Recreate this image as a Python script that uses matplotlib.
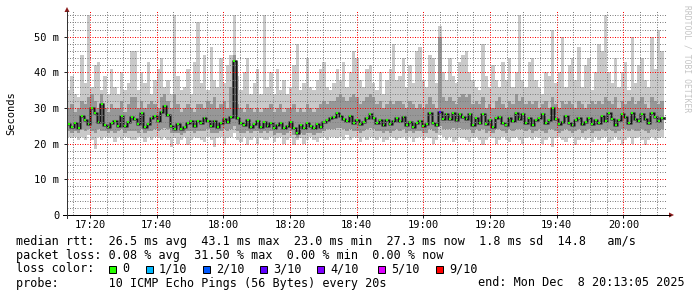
import numpy as np
import matplotlib
matplotlib.use('Agg')
import matplotlib.pyplot as plt
from matplotlib.patches import Rectangle, Polygon
from matplotlib.lines import Line2D

W, H = 697, 297

# one sample per minute from 17:13:05, x in minutes after 17:00, y in ms
t_start = 13 + 5 / 60

median = [25.5, 24.6, 25.8, 24.3, 27.8, 26.6, 25.4, 30.0, 28.5, 26.0, 31.0, 25.2, 24.6, 25.8, 26.4, 24.9, 27.8, 25.0, 26.2, 27.4,
          27.0, 25.6, 28.5, 24.8, 25.6, 27.2, 27.8, 26.3, 29.0, 30.5, 28.0, 25.0, 24.2, 25.4, 24.0, 24.8, 25.7, 26.4, 24.9, 26.5,
          25.8, 27.2, 26.3, 25.1, 26.4, 24.8, 25.7, 27.0, 26.2, 27.5, 43.1, 27.2, 25.8, 25.2, 26.7, 24.8, 25.6, 26.3, 24.7, 26.1,
          24.9, 25.7, 24.3, 25.2, 25.8, 24.4, 25.1, 26.2, 24.4, 23.0, 25.2, 24.3, 25.7, 24.9, 24.3, 25.6, 24.8, 26.2, 26.6, 27.3,
          27.6, 28.6, 27.8, 26.8, 26.3, 27.7, 25.8, 26.6, 25.4, 26.2, 27.1, 28.2, 27.3, 25.8, 26.7, 25.3, 26.6, 25.4, 26.3, 27.1,
          26.4, 27.6, 25.3, 26.2, 24.8, 25.7, 26.3, 24.9, 25.6, 28.5, 25.8, 25.3, 29.0, 26.8, 28.2, 26.8, 28.6, 26.7, 28.2, 27.4,
          26.8, 28.2, 25.3, 27.2, 25.8, 28.3, 25.4, 26.7, 24.8, 27.2, 27.6, 25.8, 25.3, 27.3, 26.4, 28.7, 26.8, 28.2, 25.8, 27.2,
          25.3, 26.7, 27.2, 28.3, 25.8, 26.6, 30.0, 26.8, 25.4, 26.2, 27.7, 25.8, 25.3, 26.7, 27.2, 25.4, 26.2, 27.3, 25.4, 26.6,
          25.8, 27.7, 26.3, 28.6, 26.8, 25.3, 26.7, 28.3, 27.4, 25.8, 28.7, 26.8, 26.4, 28.3, 26.8, 25.8, 28.6, 27.4, 26.3, 27.3]

ping_max = [35, 39, 34, 33, 45, 37, 56, 36, 42, 43, 35, 39, 34, 41, 36, 34, 40, 35, 37, 46,
            46, 35, 40, 37, 43, 34, 38, 41, 44, 36, 38, 34, 56, 39, 35, 36, 41, 34, 43, 54,
            37, 45, 35, 47, 38, 36, 44, 37, 42, 45, 56, 39, 35, 40, 44, 34, 37, 41, 34, 56,
            36, 40, 34, 41, 35, 38, 34, 36, 42, 48, 35, 37, 44, 36, 35, 38, 41, 43, 36, 35,
            37, 41, 38, 43, 36, 40, 46, 44, 38, 36, 41, 42, 37, 35, 40, 34, 38, 41, 48, 38,
            39, 44, 36, 42, 37, 46, 47, 38, 36, 45, 44, 37, 53, 40, 38, 44, 39, 37, 43, 45,
            46, 40, 38, 36, 35, 48, 39, 36, 42, 38, 36, 43, 38, 44, 36, 40, 56, 38, 36, 43,
            44, 38, 36, 34, 40, 39, 52, 37, 40, 50, 36, 42, 44, 38, 47, 36, 42, 44, 35, 40,
            48, 46, 56, 40, 37, 44, 36, 40, 43, 35, 50, 37, 42, 44, 38, 36, 50, 41, 52, 46]

ping_min = [22, 21.5, 22, 21, 22, 21, 22.5, 21, 18.5, 22, 21, 22, 21.5, 22, 20.5, 22, 21, 22, 21.5, 21,
            21, 22, 21.5, 20.5, 22, 21, 22, 21.5, 21, 22, 21, 19, 21.5, 20, 21, 22, 19.5, 21, 22, 21.5,
            21, 20.5, 22, 21, 19, 21.5, 22, 20, 21.5, 22, 23, 21, 20.5, 22, 19.5, 21, 22, 20, 21.5, 21,
            21, 22, 20.5, 21.5, 22, 20, 21, 21.5, 19.5, 21, 21.5, 20, 21, 22, 21, 20.5, 21.5, 22, 21, 22,
            22, 21.5, 22, 21, 22.5, 21, 22, 21.5, 20.5, 22, 21, 22, 21.5, 21, 22, 20.5, 21, 22, 21.5, 21,
            21.5, 22, 21, 22, 20.5, 21.5, 22, 21, 22, 21.5, 20, 21, 22.5, 22, 21, 22, 20.5, 21, 22, 21.5,
            21, 20.5, 21.5, 22, 21, 19.5, 21, 22, 21.5, 20, 21, 22, 21, 20.5, 21.5, 22, 21, 20, 21.5, 22,
            21, 22, 21.5, 20, 21, 22, 19, 21.5, 22, 21, 20.5, 21.5, 22, 19.5, 21, 22, 21, 21.5, 20.5, 22,
            21, 21.5, 22, 20.5, 21, 22, 21, 19.5, 21, 22, 20, 21.5, 22, 21, 19.5, 21, 22, 21, 21.5, 22]

# inner smoke (most of the pings)
ping_hi = [30, 31, 29, 30, 32, 31, 33, 34, 32, 30, 34, 30, 29, 31, 30, 30, 32, 29, 31, 33,
           33, 30, 32, 30, 31, 32, 31, 30, 33, 34, 32, 30, 34, 31, 29, 30, 31, 30, 29, 31,
           31, 30, 32, 31, 33, 30, 31, 32, 30, 36, 45, 31, 30, 29, 31, 30, 29, 30, 29, 30,
           30, 31, 29, 30, 31, 29, 30, 30, 31, 29, 30, 29, 31, 30, 29, 30, 31, 32, 31, 32,
           32, 33, 34, 33, 32, 33, 34, 33, 31, 32, 33, 34, 33, 31, 32, 30, 31, 32, 31, 32,
           32, 31, 30, 32, 31, 30, 31, 30, 31, 33, 31, 30, 50, 33, 32, 33, 32, 31, 33, 34,
           33, 34, 31, 32, 31, 33, 30, 31, 30, 32, 33, 31, 30, 32, 31, 34, 32, 33, 31, 32,
           31, 32, 30, 31, 32, 30, 33, 31, 30, 32, 31, 32, 31, 30, 32, 31, 30, 31, 32, 31,
           32, 31, 33, 32, 31, 33, 30, 32, 31, 32, 33, 31, 32, 33, 31, 30, 33, 32, 31, 32]

ping_lo = [23.5, 23, 23.5, 23, 24, 23.5, 24, 23.5, 23, 24, 23.5, 23.5, 23, 23.5, 23, 23.5, 24, 23, 23.5, 23.5,
           23.5, 23, 24, 23, 23.5, 23.5, 24, 23.5, 24, 24.5, 24, 23, 23, 23, 22.5, 23, 23.5, 23.5, 23, 23.5,
           23.5, 23.5, 24, 23, 23, 23, 23.5, 24, 23.5, 24, 25, 23.5, 23, 23, 23.5, 23, 23.5, 23.5, 23, 23.5,
           23, 23.5, 22.5, 23, 23, 22.5, 23, 23.5, 22.5, 21.5, 23, 22.5, 23, 23, 22.5, 23, 23, 23.5, 24, 24,
           24, 24.5, 24.5, 24, 23.5, 24, 23.5, 23.5, 23, 23.5, 24, 24.5, 24, 23.5, 23.5, 23, 23.5, 23, 23.5, 24,
           23.5, 24, 23, 23.5, 23, 23.5, 23.5, 23, 23, 24, 23.5, 23, 25, 24, 24, 24, 24.5, 24, 24.5, 24,
           24, 24, 23, 24, 23.5, 24, 23, 23.5, 23, 24, 24, 23.5, 23, 24, 23.5, 24, 24, 24, 23.5, 24,
           23, 23.5, 24, 23.5, 23, 24, 24, 23.5, 23, 23.5, 24, 23.5, 23, 23.5, 24, 23, 23.5, 24, 23, 23.5,
           23.5, 24, 23.5, 24, 23.5, 23, 23.5, 24, 24, 23.5, 24, 23.5, 23.5, 24, 23.5, 23, 24, 24, 23.5, 24]

# samples with lost pings (index, lost out of 10)
loss_index = [112]
loss_count = [3]

loss_labels = ['0', '1/10', '2/10', '3/10', '4/10', '5/10', '9/10']
loss_levels = [0, 1, 2, 3, 4, 5, 9]
loss_colors = ['#26ff00', '#00b8ff', '#0059ff', '#5e00ff', '#7e00ff', '#dd00ff', '#ff0000']

x_ticks = [20, 40, 60, 80, 100, 120, 140, 160, 180]
x_labels = ['17:20', '17:40', '18:00', '18:20', '18:40', '19:00', '19:20', '19:40', '20:00']
y_ticks = [0, 10, 20, 30, 40, 50]
y_labels = ['0', '10 m', '20 m', '30 m', '40 m', '50 m']

legend_lines = [
    'median rtt:  26.5 ms avg  43.1 ms max  23.0 ms min  27.3 ms now  1.8 ms sd  14.8   am/s',
    'packet loss: 0.08 % avg  31.50 % max  0.00 % min  0.00 % now',
]
probe_text = 'probe:       10 ICMP Echo Pings (56 Bytes) every 20s'
end_text = 'end: Mon Dec  8 20:13:05 2025'

MONO = 'DejaVu Sans Mono'


def fx(x):
    return x / W


def fy(y):
    return 1 - y / H


fig = plt.figure(figsize=(W / 100, H / 100), dpi=100)
fig.patch.set_facecolor('white')
ax = fig.add_axes([fx(67), fy(215), 600 / W, 205 / H])

n = len(median)
edges = np.linspace(t_start, t_start + 179, n + 1)
med = np.array(median)


def ext(a):
    a = np.asarray(a, dtype=float)
    return np.append(a, a[-1])


# smoke
ax.fill_between(edges, ext(ping_min), ext(ping_max), step='post', color='#c9c9c9', lw=0, zorder=1)
ax.fill_between(edges, ext(ping_lo), ext(ping_hi), step='post', color='#979797', lw=0, zorder=1.1)
ax.step(edges, ext(med), where='post', color='#5a5a5a', lw=2.2, zorder=1.2)
ax.step(edges, ext(med), where='post', color='#151515', lw=0.8, zorder=1.3)

# median coloured by loss
cols = [loss_colors[0]] * n
for i, c in zip(loss_index, loss_count):
    cols[i] = loss_colors[loss_levels.index(c)]
gap = 0.22
ax.hlines(med, edges[:-1] + gap, edges[1:] - gap, colors=cols, lw=1.5, zorder=4)

ax.set_xlim(t_start, t_start + 180)
ax.set_ylim(0, 57.5)
ax.set_xticks(x_ticks)
ax.set_xticklabels(x_labels)
ax.set_xticks(np.arange(15, 195, 5), minor=True)
ax.set_yticks(y_ticks)
ax.set_yticklabels(y_labels)
ax.set_yticks(np.arange(0, 58, 2), minor=True)

ax.set_axisbelow(False)
ax.grid(which='minor', color=(0.5, 0.5, 0.5, 0.24), lw=0.72, ls=(0, (1, 1.5)))
ax.grid(which='major', color=(1, 0, 0, 0.2), lw=0.72, ls=(0, (1, 1.5)))

for s in ['top', 'right', 'bottom', 'left']:
    ax.spines[s].set_visible(False)
ax.set_facecolor('white')
ax.tick_params(which='major', length=2, width=0.72, color='#222222', pad=1.8,
               labelsize=7.5, labelfontfamily=MONO, labelcolor='black')
ax.tick_params(axis='y', which='major', pad=3.5)
ax.tick_params(which='minor', length=0)

# axis lines and arrows (pixel coordinates)
fig.add_artist(Line2D([fx(63), fx(670)], [fy(215), fy(215)], color='black', lw=0.72))
fig.add_artist(Line2D([fx(67), fx(67)], [fy(218), fy(11)], color='#333333', lw=0.72))
fig.add_artist(Polygon([[fx(669), fy(212.5)], [fx(674), fy(215)], [fx(669), fy(217.5)]],
                       closed=True, color='#8b1a1a', lw=0))
fig.add_artist(Polygon([[fx(64.5), fy(12)], [fx(67), fy(7)], [fx(69.5), fy(12)]],
                       closed=True, color='#8b1a1a', lw=0))

fig.text(fx(11), fy(113), 'Seconds', rotation=90, ha='center', va='center',
         family=MONO, fontsize=7.5)
fig.text(fx(687), fy(5), 'RRDTOOL / TOBI OETIKER', rotation=270, ha='center', va='top',
         family=MONO, fontsize=5.8, color='#c4c4c4')

# legend
fs = 8.45
fig.text(fx(16), fy(241), legend_lines[0], family=MONO, fontsize=fs, va='center')
fig.text(fx(16), fy(255), legend_lines[1], family=MONO, fontsize=fs, va='center')
fig.text(fx(16), fy(269), 'loss color:', family=MONO, fontsize=fs, va='center')
sq_x = [109, 146, 203, 260, 317, 378, 436]
for x0, lab, c in zip(sq_x, loss_labels, loss_colors):
    fig.add_artist(Rectangle((fx(x0), fy(272.5)), 7 / W, 7 / H, facecolor=c,
                             edgecolor='black', lw=0.72))
    fig.text(fx(x0 + 13), fy(269), lab, family=MONO, fontsize=fs, va='center')
fig.text(fx(16), fy(283), probe_text, family=MONO, fontsize=fs, va='center')
fig.text(fx(478), fy(283), end_text, family=MONO, fontsize=fs, va='center')

fig.savefig('out.png', dpi=100, facecolor='white')
